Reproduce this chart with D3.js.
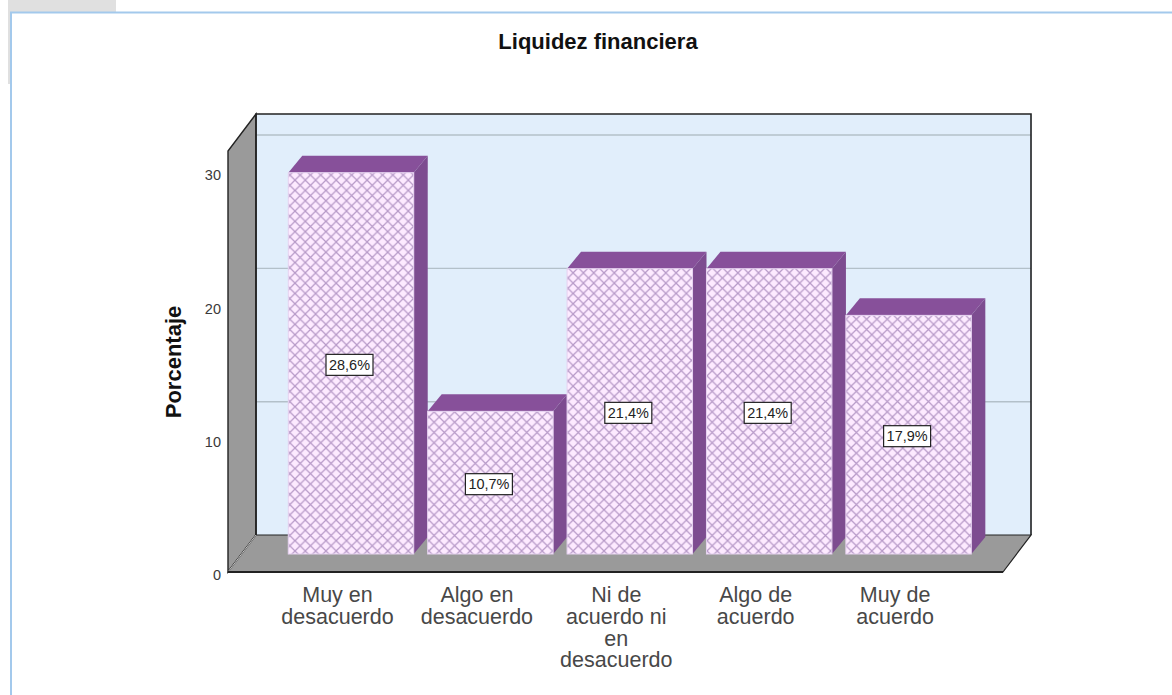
<!DOCTYPE html>
<html><head><meta charset="utf-8">
<script src="https://cdn.jsdelivr.net/npm/d3@7/dist/d3.min.js"></script>
<style>html,body{margin:0;padding:0;background:#fff}svg{display:block}text{font-family:"Liberation Sans",Arial,sans-serif}</style>
</head><body><div id="chart"></div>
<script>
const categories = [["Muy en","desacuerdo"],["Algo en","desacuerdo"],["Ni de","acuerdo ni","en","desacuerdo"],["Algo de","acuerdo"],["Muy de","acuerdo"]];
const values = [28.6,10.7,21.4,21.4,17.9];
const valueLabels = ["28,6%","10,7%","21,4%","21,4%","17,9%"];
const yTicks = [0,10,20,30];
const gridValues = [10,20,30];

const W=1172,H=695;
const svg=d3.select("#chart").append("svg").attr("width",W).attr("height",H);
const yMax=31.58;
const y=d3.scaleLinear().domain([0,yMax]).range([572,151]);
const xFrame=d3.scaleLinear().domain([0,1]).range([228,1003]);
const depth={dx:28,dy:-37}, inset={dy:-18}, barDepth={dx:14,dy:-17};
const x=d3.scaleBand().domain(d3.range(values.length)).range([281.3,978.3]).paddingInner(0.1).paddingOuter(0.05);
const line=d3.line();

// page chrome
svg.append("rect").attr("x",8).attr("y",0).attr("width",108).attr("height",12).attr("fill","#e0e0e0");
svg.append("rect").attr("x",8).attr("y",12).attr("width",3).attr("height",72).attr("fill","#e0e0e0");
svg.append("path").attr("d","M11,695V12.5H1172").attr("fill","none").attr("stroke","#a3c9ec").attr("stroke-width",2);

const defs=svg.append("defs");
const hs=10.3;
const p=defs.append("pattern").attr("id","hatch").attr("patternUnits","userSpaceOnUse")
 .attr("x",295).attr("y",169.85).attr("width",hs).attr("height",hs);
p.append("rect").attr("width",hs).attr("height",hs).attr("fill","#fdeaff");
p.append("path").attr("d",`M0,0L${hs},${hs}M${hs},0L0,${hs}`).attr("stroke","#b79ac8").attr("stroke-width",1.25);

const x0=xFrame(0),x1=xFrame(1),yb=y(0),yt=y(yMax);
// back wall
svg.append("rect").attr("x",x0+depth.dx).attr("y",yt+depth.dy).attr("width",x1-x0+1).attr("height",yb-yt).attr("fill","#e1eefb");
// grid on back wall
svg.append("g").selectAll("line").data(gridValues).join("line")
 .attr("x1",x0+depth.dx).attr("x2",x1+depth.dx).attr("y1",d=>y(d)+depth.dy).attr("y2",d=>y(d)+depth.dy)
 .attr("stroke","#b3c0c9").attr("stroke-width",1.4);
// left wall
svg.append("path").attr("d",line([[x0,yb],[x0,yt],[x0+depth.dx,yt+depth.dy],[x0+depth.dx,yb+depth.dy]])+"Z")
 .attr("fill","#9a9a9a").attr("stroke","#222").attr("stroke-width",1.4);
// floor
svg.append("path").attr("d",line([[x0,yb],[x1,yb],[x1+depth.dx,yb+depth.dy],[x0+depth.dx,yb+depth.dy]])+"Z")
 .attr("fill","#9a9a9a").attr("stroke","#222").attr("stroke-width",1.2);
svg.append("path").attr("d",line([[x0,yb],[x0+depth.dx,yb+depth.dy]])).attr("stroke","#c4c4c4").attr("stroke-width",1);
// back wall outline
svg.append("path").attr("d",line([[x0+depth.dx,yb+depth.dy],[x0+depth.dx,yt+depth.dy],[x1+depth.dx,yt+depth.dy],[x1+depth.dx,yb+depth.dy]]))
 .attr("fill","none").attr("stroke","#222").attr("stroke-width",1.6);
svg.append("path").attr("d",line([[x0,yb],[x1,yb]])).attr("stroke","#222").attr("stroke-width",1.8);

// bars
const bars=svg.append("g").selectAll("g").data(values).join("g");
const bw=x.bandwidth();
bars.append("path").attr("fill","#87509a").attr("d",(d,i)=>{const a=x(i),t=y(d)+inset.dy;
  return line([[a,t],[a+barDepth.dx,t+barDepth.dy],[a+bw+barDepth.dx,t+barDepth.dy],[a+bw,t]])+"Z";});
bars.append("path").attr("fill","#7d4c90").attr("d",(d,i)=>{const a=x(i)+bw,t=y(d)+inset.dy,b=y(0)+inset.dy;
  return line([[a,t],[a+barDepth.dx,t+barDepth.dy],[a+barDepth.dx,b+barDepth.dy],[a,b]])+"Z";});
bars.append("rect").attr("x",(d,i)=>x(i)).attr("y",d=>y(d)+inset.dy).attr("width",bw)
 .attr("height",d=>y(0)-y(d)).attr("fill","url(#hatch)").attr("stroke","#e6d2f0").attr("stroke-width",1);

// value labels
const labs=svg.append("g").selectAll("g").data(values).join("g")
 .attr("transform",(d,i)=>`translate(${x(i)+bw/2-1.5},${(y(d)+y(0))/2+inset.dy+1.5})`);
labs.append("rect").attr("x",-23.5).attr("y",-10.5).attr("width",47).attr("height",21).attr("fill","#fff").attr("stroke","#222").attr("stroke-width",1.2);
labs.append("text").attr("text-anchor","middle").attr("y",5).attr("font-size",14).attr("fill","#222").attr("textLength",41).attr("lengthAdjust","spacingAndGlyphs").text((d,i)=>valueLabels[i]);

// y axis
const ax=svg.append("g").attr("transform","translate(228,0)").call(d3.axisLeft(y).tickValues(yTicks).tickSize(0).tickPadding(7));
ax.select(".domain").remove();
ax.selectAll("text").attr("font-size",14.5).attr("fill","#3a3a3a").attr("y",3).style("font-family",'"Liberation Sans",Arial,sans-serif');

// category labels
const cats=svg.append("g").selectAll("text").data(categories).join("text")
 .attr("text-anchor","middle").attr("font-size",21.5).attr("fill","#484848")
 .attr("transform",(d,i)=>`translate(${x(i)+bw/2-13.5},602)`);
cats.selectAll("tspan").data(d=>d).join("tspan").attr("x",0).attr("y",(d,i)=>i*21.8).text(d=>d);

// titles
svg.append("text").attr("x",598).attr("y",49).attr("text-anchor","middle").attr("font-size",22).attr("font-weight","bold").attr("fill","#111").text("Liquidez financiera");
svg.append("text").attr("transform","translate(181,362) rotate(-90)").attr("text-anchor","middle").attr("font-size",22).attr("font-weight","bold").attr("fill","#111").text("Porcentaje");
</script></body></html>
